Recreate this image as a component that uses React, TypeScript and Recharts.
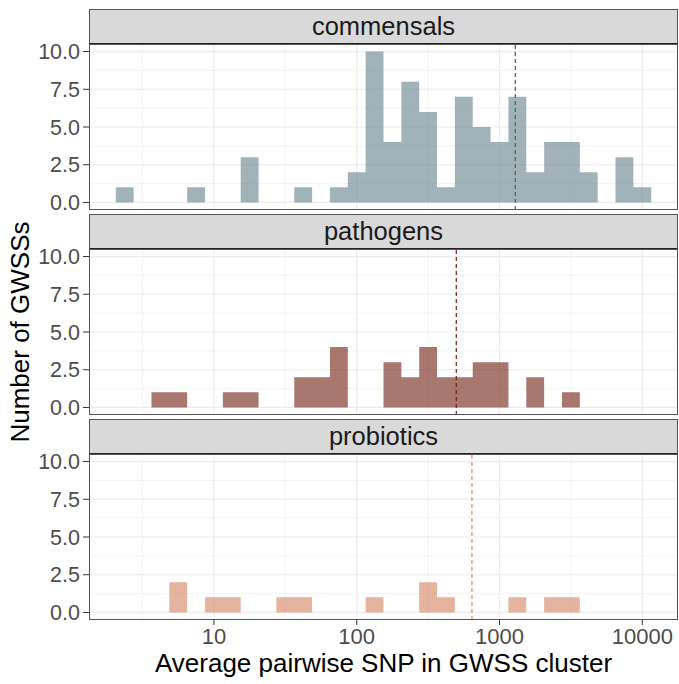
import { Area, CartesianGrid, ComposedChart, ReferenceLine, XAxis, YAxis } from "recharts";

// histogram bins are evenly spaced on log10(SNP)
const BIN_START = 0.3125;
const BIN_WIDTH = 0.125;
const X_DOMAIN: [number, number] = [0.125, 4.25];
const X_MAJOR = [1, 2, 3, 4];
const X_MINOR = [0.5, 1.5, 2.5, 3.5];
const Y_MAJOR = [0, 2.5, 5, 7.5, 10];
const Y_MINOR = [1.25, 3.75, 6.25, 8.75];

const groups = ["commensals", "pathogens", "probiotics"];

// counts per bin, 30 bins
const commensalCounts = [1, 0, 0, 0, 1, 0, 0, 3, 0, 0, 1, 0, 1, 2, 10, 4, 8, 6, 1, 7, 5, 4, 7, 2, 4, 4, 2, 0, 3, 1];
const pathogenCounts = [0, 0, 1, 1, 0, 0, 1, 1, 0, 0, 2, 2, 4, 0, 0, 3, 2, 4, 2, 2, 3, 3, 0, 2, 0, 1, 0, 0, 0, 0];
const probioticCounts = [0, 0, 0, 2, 0, 1, 1, 0, 0, 1, 1, 0, 0, 0, 1, 0, 0, 2, 1, 0, 0, 0, 1, 0, 1, 1, 0, 0, 0, 0];

const medians = [1290, 498, 641];
const colors = ["#6f8b92", "#7a2e22", "#d98a6c"];
const lineColors = ["#4a5f65", "#7a1a14", "#d9866b"];

const PANEL_TOPS = [44, 249, 454];
const PANEL_H = 166;
const STRIP_H = 35;
const PAD = 10; // room above/below the plot so edge tick labels are not clipped
const LEFT = 89;
const WIDTH = 678;
const FONT = "'Liberation Sans', Arial, sans-serif";

function Panel({ idx, counts }: { idx: number; counts: number[] }) {
  const top = PANEL_TOPS[idx];
  const showX = idx === groups.length - 1;
  const data = counts.map((n, i) => ({ x: BIN_START + i * BIN_WIDTH, n }));
  data.push({ x: BIN_START + counts.length * BIN_WIDTH, n: 0 });

  return (
    <>
      <div style={{ position: "absolute", left: 0, top: top - PAD }}>
        <ComposedChart
          width={WIDTH}
          height={PANEL_H + PAD + (showX ? 34 : PAD)}
          data={data}
          margin={{ top: PAD, right: 0, bottom: showX ? 0 : PAD, left: 0 }}
        >
          <CartesianGrid stroke="#ebebeb" strokeWidth={0.6} horizontalValues={Y_MINOR} verticalValues={X_MINOR} />
          <CartesianGrid stroke="#ebebeb" strokeWidth={1.2} horizontalValues={Y_MAJOR} verticalValues={X_MAJOR} />
          <XAxis
            type="number"
            dataKey="x"
            domain={X_DOMAIN}
            ticks={X_MAJOR}
            allowDataOverflow
            hide={!showX}
            height={34}
            interval={0}
            axisLine={false}
            tickLine={{ stroke: "#333" }}
            tickSize={5}
            tickMargin={3}
            tick={{ fontSize: 22, fill: "#4d4d4d", fontFamily: FONT }}
            tickFormatter={(v: number) => String(Math.round(Math.pow(10, v)))}
          />
          <YAxis
            type="number"
            domain={[-0.5, 10.5]}
            ticks={Y_MAJOR}
            allowDataOverflow
            interval={0}
            width={LEFT}
            axisLine={false}
            tickLine={{ stroke: "#333" }}
            tickSize={6}
            tickMargin={3}
            tick={{ fontSize: 21.5, fill: "#4d4d4d", fontFamily: FONT }}
            tickFormatter={(v: number) => v.toFixed(1)}
          />
          <Area
            type="stepAfter"
            dataKey="n"
            baseValue={0}
            fill={colors[idx]}
            fillOpacity={0.65}
            stroke="none"
            isAnimationActive={false}
          />
          <ReferenceLine x={Math.log10(medians[idx])} stroke={lineColors[idx]} strokeWidth={1.2} strokeDasharray="4 3" />
        </ComposedChart>
      </div>
      <div
        style={{
          position: "absolute",
          left: LEFT,
          top: top - STRIP_H,
          width: WIDTH - LEFT,
          height: STRIP_H,
          boxSizing: "border-box",
          background: "#d9d9d9",
          border: "1px solid #555",
          borderBottom: "1px solid #222",
          textAlign: "center",
          lineHeight: `${STRIP_H - 3}px`,
          fontSize: 25.5,
          color: "#1a1a1a",
        }}
      >
        {groups[idx]}
      </div>
      <div
        style={{
          position: "absolute",
          left: LEFT,
          top,
          width: WIDTH - LEFT,
          height: PANEL_H,
          boxSizing: "border-box",
          border: "1px solid #555",
          pointerEvents: "none",
        }}
      />
    </>
  );
}

export default function App() {
  const allCounts = [commensalCounts, pathogenCounts, probioticCounts];
  return (
    <div style={{ position: "absolute", left: 0, top: 0, width: 679, height: 684, background: "#fff", fontFamily: FONT }}>
      {groups.map((g, i) => (
        <Panel key={g} idx={i} counts={allCounts[i]} />
      ))}
      <div
        style={{
          position: "absolute",
          left: LEFT,
          width: WIDTH - LEFT,
          top: 648,
          textAlign: "center",
          fontSize: 26,
          color: "#000",
        }}
      >
        Average pairwise SNP in GWSS cluster
      </div>
      <div
        style={{
          position: "absolute",
          left: 20 - 150,
          top: 332 - 15,
          width: 300,
          height: 30,
          lineHeight: "30px",
          textAlign: "center",
          fontSize: 26,
          color: "#000",
          transform: "rotate(-90deg)",
        }}
      >
        Number of GWSSs
      </div>
    </div>
  );
}
